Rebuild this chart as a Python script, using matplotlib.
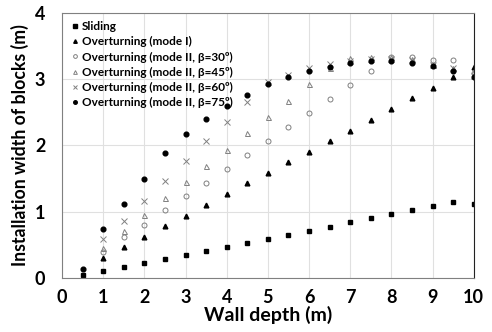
import numpy as np
import matplotlib
matplotlib.use("Agg")
import matplotlib.pyplot as plt

plt.rcParams['font.family'] = ['Lato', 'DejaVu Sans']
plt.rcParams['font.weight'] = 'bold'

depth = [0.5, 1, 1.5, 2, 2.5, 3, 3.5, 4, 4.5, 5, 5.5, 6, 6.5, 7, 7.5, 8, 8.5, 9, 9.5, 10]
depth1 = depth[1:]

sliding = [0.045, 0.10, 0.166, 0.23, 0.29, 0.35, 0.41, 0.47, 0.53, 0.59,
           0.65, 0.71, 0.77, 0.84, 0.90, 0.965, 1.02, 1.085, 1.145, 1.115]
mode1 = [0.30, 0.46, 0.62, 0.78, 0.94, 1.10, 1.27, 1.43, 1.59, 1.75,
         1.90, 2.07, 2.22, 2.39, 2.55, 2.71, 2.87, 3.03, 3.19]
beta30 = [0.39, 0.61, 0.80, 1.02, 1.23, 1.44, 1.65, 1.86, 2.07, 2.28,
          2.49, 2.70, 2.91, 3.12, 3.33, 3.34, 3.29, 3.29, 3.10]
beta45 = [0.45, 0.71, 0.955, 1.20, 1.45, 1.69, 1.93, 2.19, 2.43, 2.67,
          2.92, 3.17, 3.32, 3.33, 3.34, 3.30, 3.22, 3.17, 3.12]
beta60 = [0.58, 0.86, 1.16, 1.46, 1.76, 2.06, 2.36, 2.66, 2.96, 3.07,
          3.17, 3.23, 3.27, 3.30, 3.31, 3.29, 3.22, 3.17, 3.05]
beta75 = [0.135, 0.74, 1.12, 1.50, 1.88, 2.17, 2.40, 2.60, 2.76, 2.92, 3.03,
          3.13, 3.19, 3.25, 3.27, 3.27, 3.25, 3.20, 3.13, 3.03]

fig = plt.figure(figsize=(4.92, 3.32), dpi=100)
ax = fig.add_axes([0.126, 0.163, 0.837, 0.798])

gray = '#808080'
ax.plot(depth, sliding, 's', color='black', ms=3.4, ls='none', label='Sliding')
ax.plot(depth1, mode1, '^', color='black', ms=3.4, ls='none', label='Overturning (mode I)')
ax.plot(depth1, beta30, 'o', mfc='none', mec=gray, mew=0.7, ms=3.6, ls='none',
        label='Overturning (mode II, β=30º)')
ax.plot(depth1, beta45, '^', mfc='none', mec=gray, mew=0.7, ms=3.6, ls='none',
        label='Overturning (mode II, β=45º)')
ax.plot(depth1, beta60, 'x', color=gray, mew=0.7, ms=3.8, ls='none',
        label='Overturning (mode II, β=60º)')
ax.plot(depth, beta75, 'o', color='black', ms=3.4, ls='none',
        label='Overturning (mode II, β=75º)')

ax.set_xlim(0, 10)
ax.set_ylim(0, 4)
ax.set_xticks(range(0, 11))
ax.set_yticks(range(0, 5))
ax.grid(True, color='#e0e0e0', lw=0.8)
ax.set_axisbelow(True)
ax.tick_params(length=0, labelsize=13)
ax.tick_params(axis='x', pad=8)
ax.tick_params(axis='y', pad=12)
for lab in ax.get_xticklabels() + ax.get_yticklabels():
    lab.set_fontweight('bold')
for s in ['left', 'bottom', 'top']:
    ax.spines[s].set_color(gray)
ax.spines['right'].set_color('#222222')

ax.set_xlabel('Wall depth (m)', fontsize=14, fontweight='bold', labelpad=0)
ax.set_ylabel('Installation width of blocks (m)', fontsize=12.7, fontweight='bold', labelpad=4)

leg = ax.legend(loc='upper left', frameon=False, fontsize=8.5, handletextpad=0.2,
                handlelength=0.8, labelspacing=0.35, borderaxespad=0.3, markerscale=0.75)
for t in leg.get_texts():
    t.set_fontweight('bold')

fig.savefig('out.png', dpi=100)
